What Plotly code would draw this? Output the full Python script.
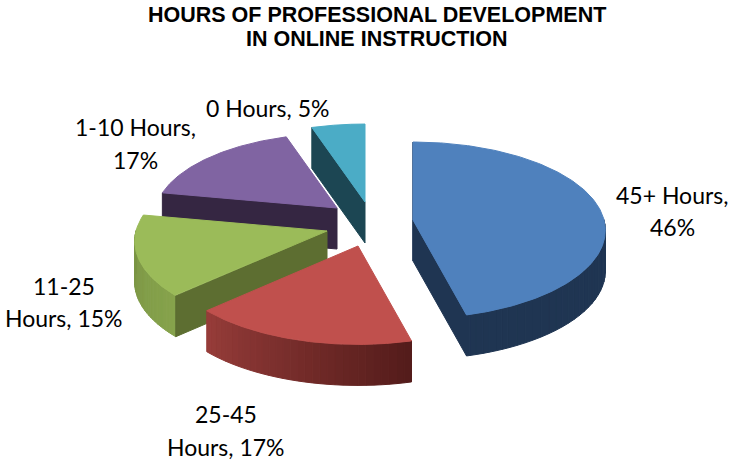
import numpy as np
import plotly.graph_objects as go

# ---- data ----
categories = ["45+ Hours", "25-45 Hours", "11-25 Hours", "1-10 Hours", "0 Hours"]
values = [46, 17, 15, 17, 5]
label_lines = [
    ["45+ Hours,", "46%"],
    ["25-45", "Hours, 17%"],
    ["11-25", "Hours, 15%"],
    ["1-10 Hours,", "17%"],
    ["0 Hours, 5%"],
]
title_lines = ["HOURS OF PROFESSIONAL DEVELOPMENT", "IN ONLINE INSTRUCTION"]

# ---- style / layout ----
W, H = 730, 460
RX, RY, PERSP, DEPTH = 191, 87, 0.116, 41
apex = [(413, 220), (358, 246), (327, 231), (337, 208), (365, 202)]   # exploded slice centres
scale = [1.0, 1.0, 1.0, 0.95, 1.0]
top_col = ["#4f81bd", "#c0504d", "#9bbb59", "#8064a2", "#4bacc6"]
rim_from = [(31, 53, 82), (84, 28, 27), (134, 163, 76), (53, 38, 66), (28, 70, 83)]
rim_to = [(31, 53, 82), (150, 60, 57), (122, 148, 68), (53, 38, 66), (28, 70, 83)]
wall_col = ["#1f3552", "#5a1f1d", "#5d6e31", "#352642", "#1c4653"]
draw_order = [4, 3, 2, 1, 0]
walls = {0: [0, -1], 1: [], 2: [0], 3: [0], 4: [0]}   # cut faces shown to the viewer
label_xy = [(672, 195, 32), (226, 414, 33), (64, 286, 32), (135, 127, 33), (267, 108, 0)]
STRIPS = 30


def proj(theta, r=1.0):
    u, v = r * np.sin(theta), -r * np.cos(theta)
    w = 1 / (1 - PERSP * v)
    return RX * u * w, RY * v * w


fig = go.Figure()


def poly(xs, ys, color):
    xs, ys = list(xs), list(ys)
    fig.add_trace(go.Scatter(
        x=xs + xs[:1], y=ys + ys[:1], mode="lines", fill="toself", fillcolor=color,
        line=dict(color=color, width=1), hoverinfo="skip", showlegend=False))


fractions = np.cumsum([0] + values) / sum(values) * 2 * np.pi
for i in draw_order:
    t0, t1 = fractions[i], fractions[i + 1]
    ax, ay = apex[i]
    ts = np.linspace(t0, t1, 180)
    px, py = proj(ts, scale[i])
    px, py = ax + px, ay + py

    # outer rim, only the part turned to the viewer, as gradient strips
    front = np.where(np.cos(ts) <= 0.02)[0]
    if len(front) > 1:
        chunks = np.array_split(front, STRIPS)
        for k, ch in enumerate(chunks):
            if k < len(chunks) - 1:
                ch = np.r_[ch, chunks[k + 1][0]]
            f = k / (STRIPS - 1)
            c = [round(a + (b - a) * f) for a, b in zip(rim_from[i], rim_to[i])]
            poly(np.r_[px[ch], px[ch][::-1]], np.r_[py[ch], py[ch][::-1] + DEPTH],
                 f"rgb({c[0]},{c[1]},{c[2]})")

    # cut faces
    for j in walls[i]:
        poly([ax, px[j], px[j], ax], [ay, py[j], py[j] + DEPTH, ay + DEPTH], wall_col[i])

    # top face
    poly(np.r_[ax, px, ax], np.r_[ay, py, ay], top_col[i])

annotations = []
for (x, y, step), lines in zip(label_xy, label_lines):
    for n, text in enumerate(lines):
        annotations.append(dict(x=x, y=y + n * step, text=text, showarrow=False,
                                xanchor="center", yanchor="middle",
                                font=dict(family="Lato", size=23, color="#000000")))
for n, text in enumerate(title_lines):
    annotations.append(dict(x=377, y=15 + n * 24, text=f"<b>{text}</b>", showarrow=False,
                            xanchor="center", yanchor="middle",
                            font=dict(family="Liberation Sans", size=21.5, color="#000000")))

fig.update_layout(
    width=W, height=H, margin=dict(l=0, r=0, t=0, b=0),
    paper_bgcolor="white", plot_bgcolor="white", showlegend=False,
    xaxis=dict(range=[0, W], visible=False, fixedrange=True),
    yaxis=dict(range=[H, 0], visible=False, fixedrange=True),
    annotations=annotations,
)
fig.write_html("out.html", config=dict(displayModeBar=False),
               post_script="document.body.style.margin='0';document.body.style.overflow='hidden';")
